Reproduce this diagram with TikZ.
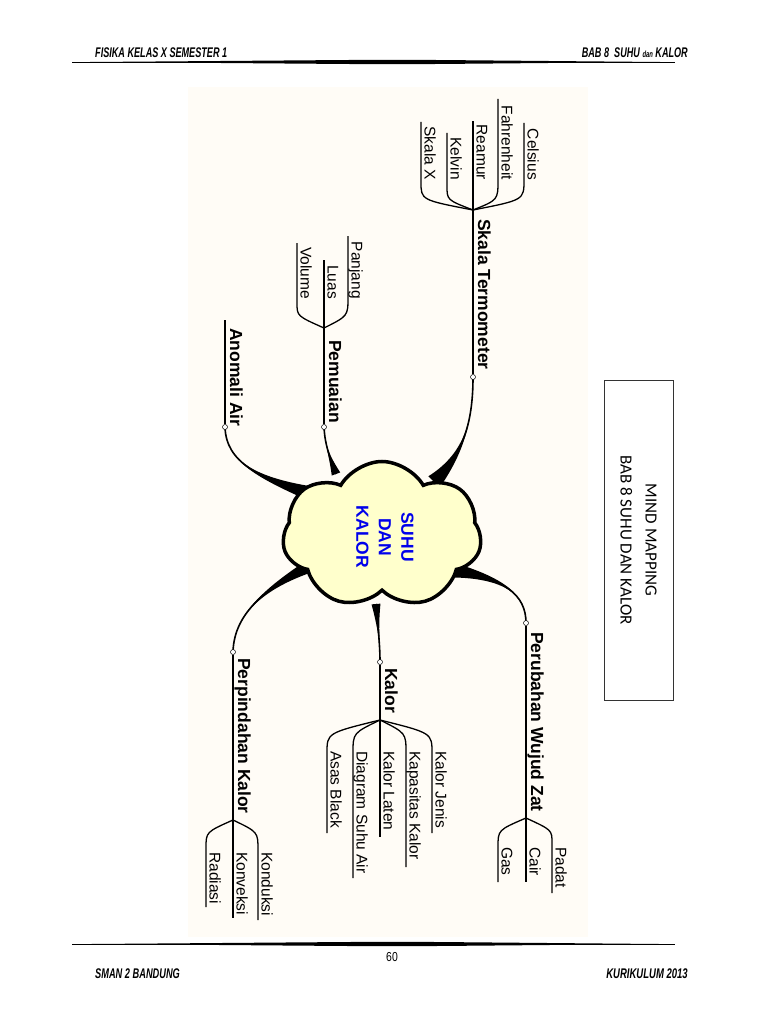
\documentclass[tikz,border=0pt]{standalone}
\usepackage{fontspec}
\setmainfont{Liberation Sans}
\newfontfamily\kotakfont{Carlito}
\usepackage{graphicx}
\usetikzlibrary{shapes.symbols,calc}

\definecolor{krem}{RGB}{255,252,246}
\definecolor{kuning}{RGB}{255,255,204}
\definecolor{biru}{RGB}{0,0,235}

\begin{document}
\begin{tikzpicture}[x=1pt, y=-1pt,
  induk/.style   = {font=\fontsize{17.5}{20}\selectfont\bfseries, rotate=-90, inner sep=0pt},
  anak/.style    = {font=\fontsize{15.5}{18}\selectfont, rotate=-90, inner sep=0pt},
  batang/.style  = {line width=1.6pt},
  ranting/.style = {line width=1.3pt},
  titik/.style   = {circle, draw, fill=white, line width=0.5pt, inner sep=0pt, minimum size=5pt},
  pinggir/.style = {font=\fontsize{14}{16}\selectfont\bfseries\itshape, inner sep=0pt}
]
  \useasboundingbox (0,0) rectangle (768,1024);
  \fill[krem] (188,87) rectangle (588,937);

  % kepala dan kaki halaman
  \node[pinggir, anchor=base west] (kiriatas) at (95,58) {\scalebox{0.65}[1]{FISIKA KELAS X SEMESTER 1}};
  \node[pinggir, anchor=base east] (kananatas) at (688,58)
    {\scalebox{0.65}[1]{BAB 8\ \ SUHU {\fontsize{9}{9}\selectfont dan} KALOR}};
  \foreach \y in {62,944}{
    \draw[line width=0.8pt] (72,\y) -- (675,\y);
    \fill (90,\y) .. controls (330,\y-1.8) and (360,\y-2.2) .. (393,\y-2.2)
      .. controls (426,\y-2.2) and (456,\y-1.8) .. (660,\y)
      .. controls (456,\y+1.8) and (426,\y+2.2) .. (393,\y+2.2)
      .. controls (360,\y+2.2) and (330,\y+1.8) .. (90,\y) -- cycle;
  }
  \node[pinggir, font=\fontsize{13}{15}\selectfont, anchor=base] (halaman) at (392,961) {\scalebox{0.8}[1]{60}};
  \node[pinggir, anchor=base west] (kiribawah) at (95,978) {\scalebox{0.66}[1]{SMAN 2 BANDUNG}};
  \node[pinggir, anchor=base east] (kananbawah) at (688,978) {\scalebox{0.68}[1]{KURIKULUM 2013}};

  % ujung cabang utama
  \coordinate (tSkala) at (473,377);  \coordinate (cSkala) at (434,482);
  \coordinate (tPemu)  at (324,427);  \coordinate (cPemu)  at (336,474);
  \coordinate (tAnom)  at (225,427);  \coordinate (cAnom)  at (312,494);
  \coordinate (tUbah)  at (526,623);  \coordinate (cUbah)  at (452,570);
  \coordinate (tKal)   at (380,662);  \coordinate (cKal)   at (376,604);
  \coordinate (tPin)   at (233,652);  \coordinate (cPin)   at (316,563);

  % cabang meruncing
  \fill (tSkala) .. controls (473,425) and (462,455) .. ($(cSkala)!8pt!90:(462,455)$)
    -- ($(cSkala)!8pt!-90:(462,455)$) .. controls (462,455) and (473,425) .. (tSkala);
  \draw[batang] (tSkala) .. controls (473,425) and (462,455) .. (cSkala);
  \fill (tPemu) .. controls (325,445) and (329,455) .. ($(cPemu)!4.5pt!90:(329,455)$)
    -- ($(cPemu)!4.5pt!-90:(329,455)$) .. controls (329,455) and (325,445) .. (tPemu);
  \draw[batang] (tPemu) .. controls (325,445) and (329,455) .. (cPemu);
  \fill (tAnom) .. controls (226,462) and (258,478) .. ($(cAnom)!7.5pt!90:(258,478)$)
    -- ($(cAnom)!7.5pt!-90:(258,478)$) .. controls (258,478) and (226,462) .. (tAnom);
  \draw[batang] (tAnom) .. controls (226,462) and (258,478) .. (cAnom);
  \fill (tUbah) .. controls (526,595) and (505,578) .. ($(cUbah)!7.5pt!90:(505,578)$)
    -- ($(cUbah)!7.5pt!-90:(505,578)$) .. controls (505,578) and (526,595) .. (tUbah);
  \draw[batang] (tUbah) .. controls (526,595) and (505,578) .. (cUbah);
  \fill (tKal) .. controls (380,645) and (378,628) .. ($(cKal)!4.5pt!90:(378,628)$)
    -- ($(cKal)!4.5pt!-90:(378,628)$) .. controls (378,628) and (380,645) .. (tKal);
  \draw[batang] (tKal) .. controls (380,645) and (378,628) .. (cKal);
  \fill (tPin) .. controls (234,612) and (268,586) .. ($(cPin)!7.5pt!90:(268,586)$)
    -- ($(cPin)!7.5pt!-90:(268,586)$) .. controls (268,586) and (234,612) .. (tPin);
  \draw[batang] (tPin) .. controls (234,612) and (268,586) .. (cPin);

  % pusat
  \node[cloud, cloud puffs=7, cloud puff arc=120, cloud ignores aspect, draw, line width=3.5pt,
        fill=kuning, minimum width=199pt, minimum height=147pt] (pusat) at (382,535) {};
  \node[rotate=-90, align=center, text=biru, inner sep=0pt,
        font=\fontsize{17.5}{22.5}\selectfont\bfseries] (judul) at (385,537) {SUHU\\DAN\\KALOR};

  \foreach \n in {Skala,Pemu,Anom,Ubah,Kal,Pin}
    \node[titik] (o\n) at (t\n) {};

  % Skala Termometer
  \coordinate (fSkala) at (473,210);
  \draw[batang] (oSkala) -- (fSkala);
  \node[induk, anchor=base west] (lSkala) at (478,219) {Skala Termometer};
  \foreach \x/\tekuk/\ujung/\teks [count=\i] in
      {524/180/123/Celsius, 498/180/99/Fahrenheit, 473/180/121/Reamur, 447/186/133/Kelvin, 421/182/122/Skala X}{
    \coordinate (uSkala\i) at (\x,\ujung);
    \draw[ranting] (fSkala) .. controls (\x,200) .. (\x,\tekuk) -- (uSkala\i);
    \node[anak, anchor=base east] (skala\i) at (\x+3.5,180) {\teks};
  }

  % Pemuaian
  \coordinate (fPemu) at (324,328);
  \draw[batang] (oPemu) -- (fPemu);
  \node[induk, anchor=base west] (lPemu) at (329,340) {Pemuaian};
  \foreach \x/\tekuk/\ujung/\teks [count=\i] in {348/297/236/Panjang, 324/299/260/Luas, 297/303/243/Volume}{
    \coordinate (uPemu\i) at (\x,\ujung);
    \draw[ranting] (fPemu) .. controls (\x,316) .. (\x,\tekuk) -- (uPemu\i);
    \node[anak, anchor=base east] (pemu\i) at (\x+3.5,299) {\teks};
  }

  % Anomali Air
  \coordinate (fAnom) at (225,320);
  \draw[batang] (oAnom) -- (fAnom);
  \node[induk, anchor=base west] (lAnom) at (230,328) {Anomali Air};

  % Perubahan Wujud Zat
  \coordinate (fUbah) at (526,818);
  \draw[batang] (oUbah) -- (fUbah);
  \node[induk, anchor=base west] (lUbah) at (531,632) {Perubahan Wujud Zat};
  \foreach \x/\tekuk/\ujung/\teks [count=\i] in {552/843/893/Padat, 526/843/882/Cair, 498/847/882/Gas}{
    \coordinate (uUbah\i) at (\x,\ujung);
    \draw[ranting] (fUbah) .. controls (\x,830) .. (\x,\tekuk) -- (uUbah\i);
    \node[anak, anchor=base west] (ubah\i) at (\x+3.5,847) {\teks};
  }

  % Kalor
  \coordinate (fKal) at (380,720);
  \draw[batang] (oKal) -- (fKal);
  \node[induk, anchor=base west] (lKal) at (385,668) {Kalor};
  \foreach \x/\tekuk/\ujung/\teks [count=\i] in
      {432/753/833/Kalor Jenis, 406/753/867/Kapasitas Kalor, 380/753/837/Kalor Laten,
       353/753/878/Diagram Suhu Air, 327/753/833/Asas Black}{
    \coordinate (uKal\i) at (\x,\ujung);
    \draw[ranting] (fKal) .. controls (\x,733) .. (\x,\tekuk) -- (uKal\i);
    \node[anak, anchor=base west] (kal\i) at (\x+3.5,751) {\teks};
  }

  % Perpindahan Kalor
  \coordinate (fPin) at (233,820);
  \draw[batang] (oPin) -- (fPin);
  \node[induk, anchor=base west] (lPin) at (238,658) {Perpindahan Kalor};
  \foreach \x/\tekuk/\ujung/\teks [count=\i] in {258/850/920/Konduksi, 233/850/918/Konveksi, 206/848/907/Radiasi}{
    \coordinate (uPin\i) at (\x,\ujung);
    \draw[ranting] (fPin) .. controls (\x,832) .. (\x,\tekuk) -- (uPin\i);
    \node[anak, anchor=base west] (pin\i) at (\x+3.5,852) {\teks};
  }

  % kotak judul
  \node[draw=black!80, line width=0.8pt, rotate=-90, minimum width=320pt, minimum height=69pt,
        align=center, font=\kotakfont\fontsize{17}{25}\selectfont] (kotak) at (638.5,540)
        {MIND MAPPING\\BAB 8 SUHU DAN KALOR};
\end{tikzpicture}
\end{document}
